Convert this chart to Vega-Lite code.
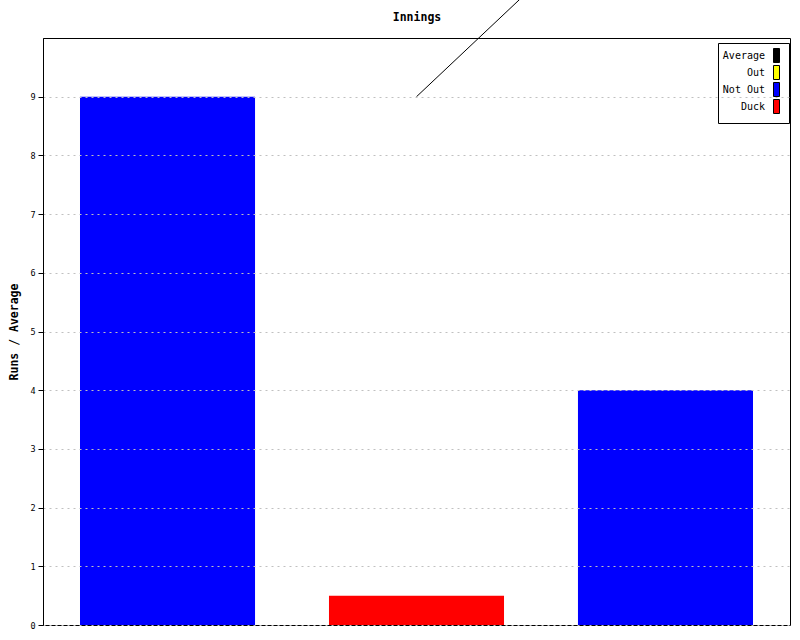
{
  "$schema": "https://vega.github.io/schema/vega-lite/v6.json",
  "autosize": {"type": "none"},
  "width": 747,
  "height": 587,
  "padding": {"left": 43, "top": 38, "right": 10, "bottom": 15},
  "background": "white",
  "config": {
    "font": "DejaVu Sans Mono",
    "view": {"stroke": "black", "strokeWidth": 1}
  },
  "datasets": {
    "bars": [
      {"innings": "1", "runs": 9, "status": "Not Out"},
      {"innings": "2", "runs": 0.5, "status": "Duck"},
      {"innings": "3", "runs": 4, "status": "Not Out"}
    ],
    "avg": [
      {"innings": "2", "average": 9},
      {"innings": "3", "average": 13}
    ]
  },
  "layer": [
    {
      "data": {"name": "bars"},
      "mark": {"type": "bar", "clip": false},
      "encoding": {
        "x": {
          "field": "innings", "type": "ordinal",
          "scale": {"paddingInner": 0.297, "paddingOuter": 0.1486},
          "axis": {
            "orient": "top",
            "labels": false, "ticks": false, "domain": false, "grid": false,
            "title": "Innings",
            "titleFont": "DejaVu Sans Mono",
            "titleFontSize": 11.5,
            "titleFontWeight": "bold",
            "titleColor": "black",
            "titlePadding": 16
          }
        },
        "y": {
          "field": "runs", "type": "quantitative",
          "scale": {"domain": [0, 10], "nice": false},
          "axis": {
            "values": [0, 1, 2, 3, 4, 5, 6, 7, 8, 9],
            "format": "d",
            "title": "Runs / Average",
            "titleFont": "DejaVu Sans Mono",
            "titleFontSize": 11.5,
            "titleFontWeight": "bold",
            "titleColor": "black",
            "titlePadding": 10,
            "labelFont": "DejaVu Sans Mono",
            "labelFontSize": 8.5,
            "labelColor": "black",
            "labelPadding": 3,
            "tickColor": "black",
            "tickSize": 5,
            "domainColor": "black",
            "grid": true,
            "gridColor": "#c0c0c0",
            "gridDash": [2, 4],
            "gridWidth": 1,
            "zindex": 1
          }
        },
        "color": {
          "field": "status", "type": "nominal",
          "scale": {
            "domain": ["Average", "Out", "Not Out", "Duck"],
            "range": ["#000000", "#ffff00", "#0000ff", "#ff0000"]
          },
          "legend": {
            "title": null,
            "orient": "none",
            "legendX": 675,
            "legendY": 5,
            "labelFont": "DejaVu Sans Mono",
            "labelFontSize": 10,
            "labelColor": "black",
            "labelAlign": "right",
            "labelOffset": -17,
            "symbolOffset": 46,
            "symbolType": "M-0.6,-1.4L0.6,-1.4L0.6,1.4L-0.6,1.4Z",
            "symbolSize": 100,
            "symbolStrokeColor": "black",
            "symbolStrokeWidth": 1,
            "symbolOpacity": 1,
            "rowPadding": -2,
            "strokeColor": "black",
            "fillColor": "white",
            "padding": 7
          }
        }
      }
    },
    {
      "data": {"name": "avg"},
      "mark": {"type": "line", "color": "black", "strokeWidth": 1, "clip": false},
      "encoding": {
        "x": {"field": "innings", "type": "ordinal"},
        "y": {"field": "average", "type": "quantitative"}
      }
    }
  ]
}
